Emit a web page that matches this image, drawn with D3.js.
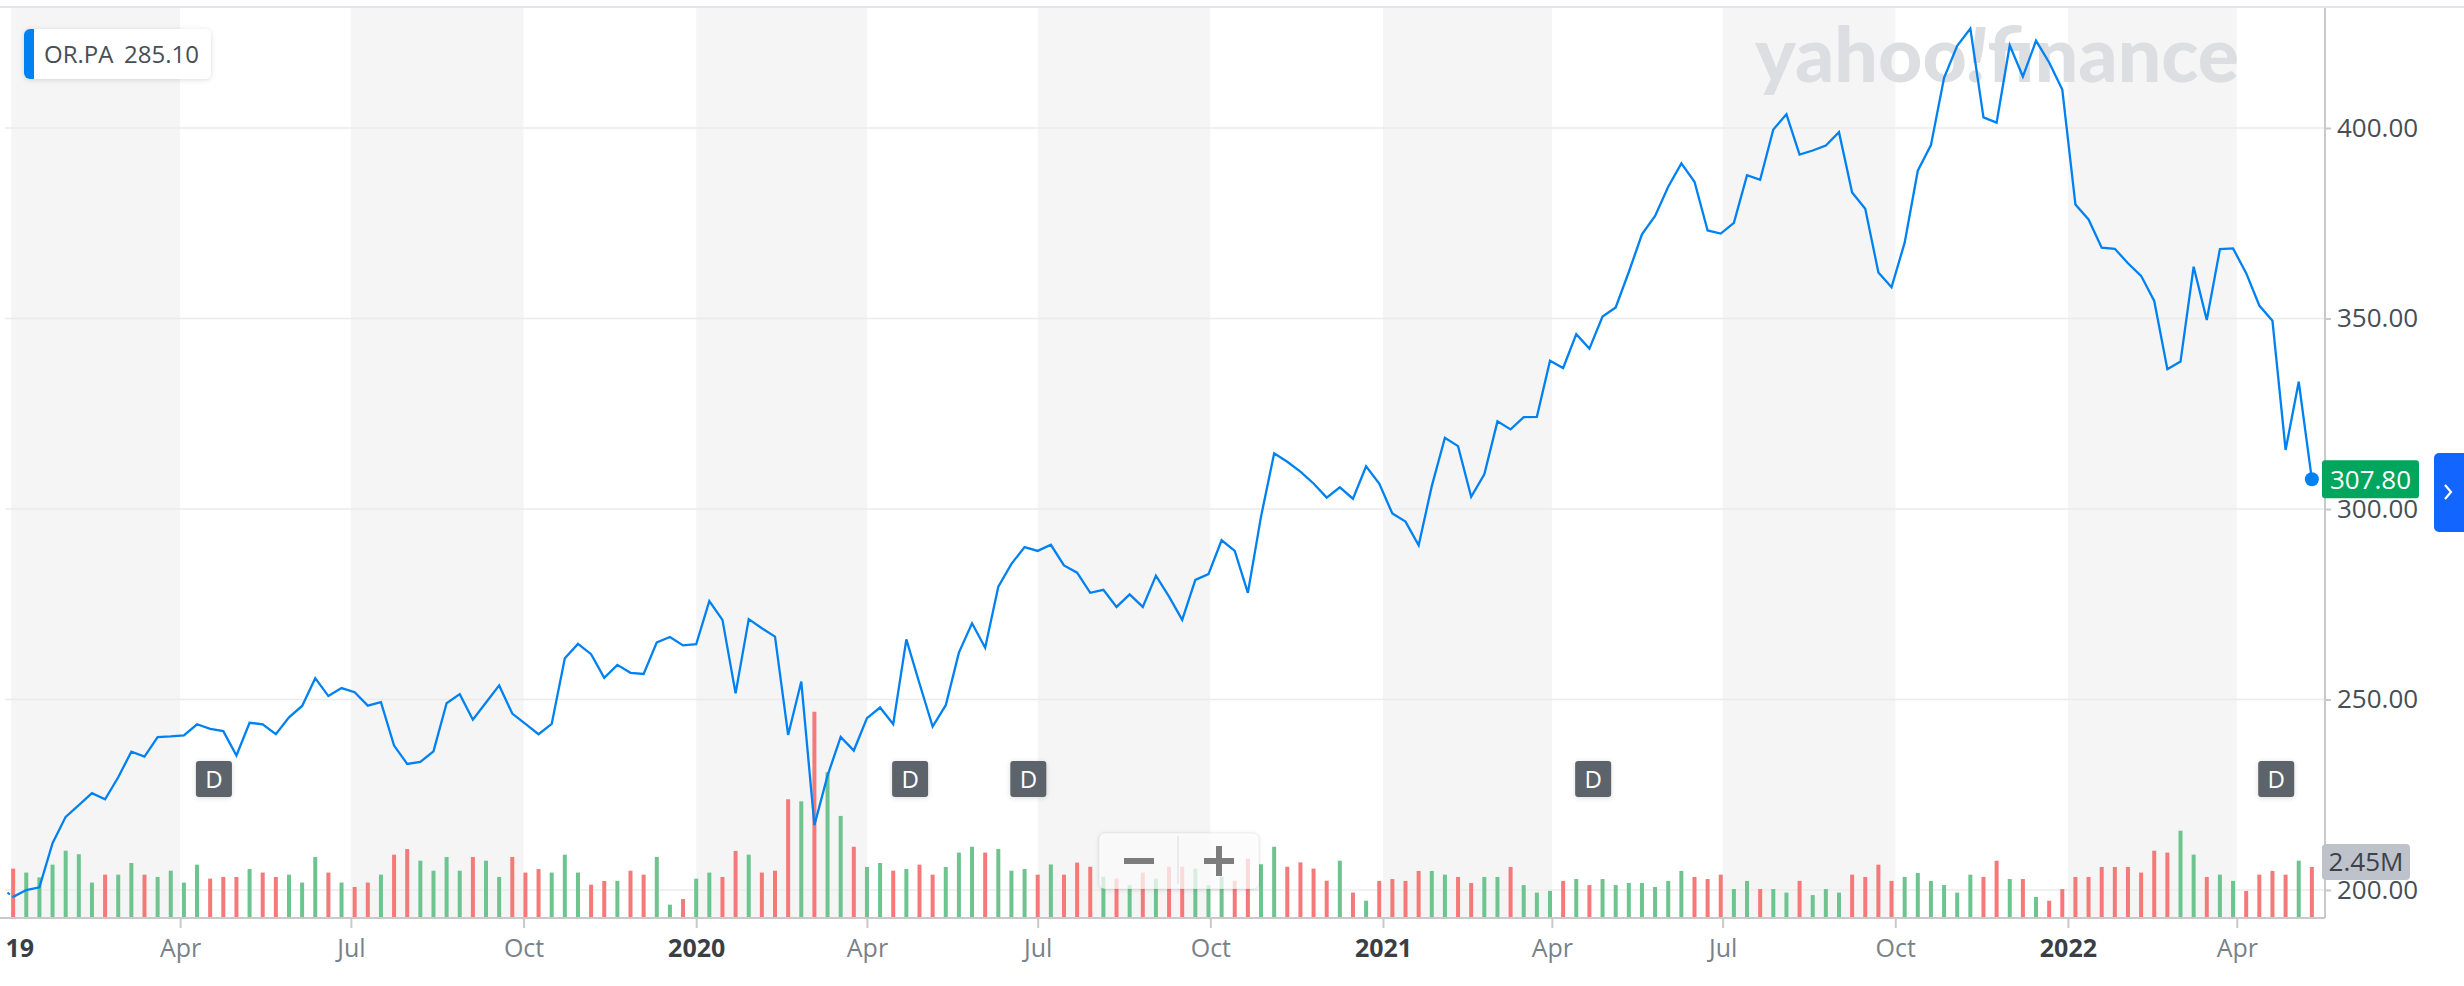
<!DOCTYPE html>
<html>
<head>
<meta charset="utf-8">
<script src="https://cdn.jsdelivr.net/npm/d3@7"></script>
<style>
  body { margin: 0; background: #fff; }
  svg { display: block; font-family: "Open Sans", sans-serif; }
</style>
</head>
<body>
<div id="chart"></div>
<script>
// weekly closes of OR.PA, first week below, one value per week
const symbol = 'OR.PA';
const legendValue = '285.10';
const firstWeek = '2019-01-02';
const prevCloseDate = '2018-12-30';
const prevClose = 199.3;

const closes = [
  198.2, 200.0, 200.7, 212.3, 219.2, 222.3, 225.4, 223.8, 229.6, 236.3,
  235.0, 240.1, 240.3, 240.6, 243.5, 242.3, 241.7, 235.3, 243.9, 243.5,
  240.9, 245.3, 248.3, 255.6, 250.9, 253.0, 251.9, 248.4, 249.3, 237.9,
  233.1, 233.6, 236.4, 249.0, 251.4, 244.7, 249.2, 253.7, 246.3, 243.6,
  240.9, 243.6, 260.8, 264.6, 261.9, 255.7, 259.1, 257.0, 256.7, 265.0,
  266.4, 264.2, 264.5, 275.8, 270.9, 251.6, 271.1, 268.7, 266.5, 240.7,
  254.7, 217.0, 230.0, 240.2, 236.6, 245.1, 247.9, 243.5, 265.8, 254.2,
  242.9, 248.5, 262.3, 270.0, 263.6, 279.6, 285.6, 290.0, 289.0, 290.6,
  285.2, 283.3, 278.0, 278.8, 274.3, 277.6, 274.3, 282.5, 277.0, 270.9,
  281.4, 282.9, 291.8, 289.0, 278.0, 298.0, 314.6, 312.4, 309.8, 306.7,
  303.0, 305.7, 302.7, 311.2, 306.7, 298.8, 296.7, 290.5, 306.0, 318.7,
  316.5, 303.2, 309.1, 323.0, 320.9, 324.1, 324.2, 338.9, 337.0, 345.9,
  342.1, 350.5, 352.9, 362.2, 372.1, 376.9, 384.6, 390.7, 385.9, 373.1,
  372.3, 375.1, 387.6, 386.4, 399.6, 403.6, 393.0, 394.1, 395.4, 398.9,
  383.1, 378.8, 362.1, 358.2, 369.9, 388.8, 395.5, 413.2, 421.6, 426.1,
  402.8, 401.4, 421.7, 413.5, 422.9, 417.2, 410.1, 379.9, 376.0, 368.6,
  368.3, 364.5, 361.2, 354.6, 336.7, 338.7, 363.6, 349.6, 368.2, 368.4,
  361.9, 353.4, 349.4, 315.5, 333.4, 307.8
];

// weekly volume, millions of shares
const volumes = [
  2.37, 2.18, 1.95, 2.56, 3.23, 3.06, 1.70, 2.08, 2.08, 2.64,
  2.08, 1.97, 2.27, 1.70, 2.56, 1.89, 1.97, 1.97, 2.35, 2.18,
  1.97, 2.08, 1.70, 2.93, 2.18, 1.70, 1.49, 1.70, 2.08, 3.04,
  3.31, 2.75, 2.27, 2.93, 2.27, 2.93, 2.75, 1.97, 2.93, 2.18,
  2.35, 2.18, 3.04, 2.18, 1.60, 1.78, 1.78, 2.27, 2.08, 2.93,
  0.64, 0.91, 1.89, 2.18, 1.97, 3.22, 3.04, 2.18, 2.27, 5.70,
  5.60, 9.90, 7.00, 4.90, 3.42, 2.45, 2.64, 2.27, 2.35, 2.56,
  2.08, 2.45, 3.14, 3.42, 3.14, 3.31, 2.27, 2.35, 2.08, 2.57,
  2.08, 2.66, 2.46, 1.98, 1.89, 1.58, 2.18, 1.89, 2.46, 2.46,
  2.37, 1.58, 1.98, 1.79, 2.85, 2.58, 3.42, 2.46, 2.67, 2.37,
  1.79, 2.75, 1.22, 0.83, 1.78, 1.87, 1.78, 2.26, 2.26, 2.08,
  1.97, 1.68, 1.97, 1.97, 2.45, 1.58, 1.22, 1.30, 1.78, 1.87,
  1.58, 1.87, 1.58, 1.68, 1.68, 1.49, 1.78, 2.26, 1.97, 1.87,
  2.08, 1.39, 1.78, 1.39, 1.39, 1.22, 1.78, 1.10, 1.39, 1.22,
  2.08, 1.97, 2.56, 1.78, 1.97, 2.16, 1.78, 1.58, 1.22, 2.08,
  1.97, 2.75, 1.87, 1.87, 1.01, 0.83, 1.39, 1.97, 1.97, 2.45,
  2.45, 2.45, 2.18, 3.23, 3.14, 4.19, 3.04, 1.97, 2.08, 1.78,
  1.30, 2.08, 2.26, 2.08, 2.75, 2.45
];

const dividendDates = ['2019-04-19', '2020-04-24', '2020-06-26', '2021-04-23', '2022-04-22'];

const tickDates = [
  '2019-01-01', '2019-04-01', '2019-07-01', '2019-10-01',
  '2020-01-01', '2020-04-01', '2020-07-01', '2020-10-01',
  '2021-01-01', '2021-04-01', '2021-07-01', '2021-10-01',
  '2022-01-01', '2022-04-01'
];
const tickLabels = ['2019', 'Apr', 'Jul', 'Oct', '2020', 'Apr', 'Jul', 'Oct', '2021', 'Apr', 'Jul', 'Oct', '2022', 'Apr'];
const priceTicks = [200, 250, 300, 350, 400];
const lastVolumeLabel = '2.45M';

const width = 2464, height = 986;
const plotLeft = 5, plotRight = 2325, plotTop = 8, plotBottom = 918;

const parse = d3.timeParse('%Y-%m-%d');
const start = parse(firstWeek);

const data = closes.map((c, i) => ({
    date: d3.timeDay.offset(start, 7 * i),
    close: c,
    volume: volumes[i],
    up: c >= (i ? closes[i - 1] : prevClose)
}));
const last = data[data.length - 1];

const x = d3.scaleTime()
    .domain([parse('2018-12-26'), parse('2022-05-18')])
    .range([0, plotRight]);

const y = d3.scaleLinear()
    .domain([200, 400])
    .range([890, 128]);

const vy = d3.scaleLinear()
    .domain([0, 12])
    .range([plotBottom, plotBottom - 250]);

const svg = d3.select('#chart')
    .append('svg')
        .attr('width', width)
        .attr('height', height);

const defs = svg.append('defs');
defs.append('filter')
        .attr('id', 'shadow')
        .attr('x', '-20%').attr('y', '-40%')
        .attr('width', '140%').attr('height', '180%')
    .append('feDropShadow')
        .attr('dx', 0).attr('dy', 1)
        .attr('stdDeviation', 2.5)
        .attr('flood-color', '#000')
        .attr('flood-opacity', 0.14);

defs.append('clipPath')
        .attr('id', 'xclip')
    .append('rect')
        .attr('x', plotLeft).attr('y', -5)
        .attr('width', width).attr('height', 80);

// top border
svg.append('line')
    .attr('x1', 0).attr('x2', width)
    .attr('y1', 7).attr('y2', 7)
    .attr('stroke', '#e2e4e7')
    .attr('stroke-width', 2);

// quarter bands (Q1 and Q3 shaded)
const bands = tickDates.map(parse).filter((d, i) => i % 2 === 0);
svg.append('g')
    .selectAll('rect')
    .data(bands).enter()
    .append('rect')
        .attr('x', d => Math.max(plotLeft, x(d)))
        .attr('y', plotTop)
        .attr('width', d => x(d3.timeMonth.offset(d, 3)) - Math.max(plotLeft, x(d)))
        .attr('height', plotBottom - plotTop)
        .attr('fill', '#f5f5f5');

// watermark
const wm = svg.append('text')
    .attr('x', 1755)
    .attr('y', 82)
    .attr('textLength', 484)
    .attr('lengthAdjust', 'spacingAndGlyphs')
    .style('font-family', 'Lato, sans-serif')
    .style('font-weight', 900)
    .style('font-size', '76px')
    .attr('fill', '#dcdee2');
wm.append('tspan').text('yahoo');
wm.append('tspan').style('font-style', 'italic').text('!');
wm.append('tspan').text('finance');

// horizontal grid
svg.append('g')
    .selectAll('line')
    .data(priceTicks).enter()
    .append('line')
        .attr('x1', plotLeft).attr('x2', plotRight)
        .attr('y1', d => y(d)).attr('y2', d => y(d))
        .attr('stroke', '#ebebeb')
        .attr('stroke-width', 1.5);

// volume bars
svg.append('g')
    .selectAll('rect')
    .data(data).enter()
    .append('rect')
        .attr('x', d => x(d.date) - 2)
        .attr('y', d => vy(d.volume))
        .attr('width', 4)
        .attr('height', d => plotBottom - vy(d.volume))
        .attr('fill', d => d.up ? '#6ec48e' : '#f47a7a');

// price line
const line = d3.line()
    .x(d => x(d.date))
    .y(d => y(d.close));

svg.append('path')
    .datum([{ date: parse(prevCloseDate), close: prevClose }, data[0]])
    .attr('d', line)
    .attr('fill', 'none')
    .attr('stroke', '#0081f2')
    .attr('stroke-width', 2)
    .attr('stroke-dasharray', '3,3');

svg.append('path')
    .datum(data)
    .attr('d', line)
    .attr('fill', 'none')
    .attr('stroke', '#0081f2')
    .attr('stroke-width', 2.3)
    .attr('stroke-linejoin', 'miter');

// x axis
svg.append('line')
    .attr('x1', 0).attr('x2', plotRight)
    .attr('y1', plotBottom).attr('y2', plotBottom)
    .attr('stroke', '#c9c9c9')
    .attr('stroke-width', 2);

const xAxis = svg.append('g')
        .attr('transform', `translate(0,${plotBottom})`)
        .attr('clip-path', 'url(#xclip)')
    .call(d3.axisBottom(x)
        .tickValues(tickDates.map(parse))
        .tickFormat((d, i) => tickLabels[i])
        .tickSize(10)
        .tickPadding(11)
        .tickSizeOuter(0));
xAxis.select('.domain').remove();
xAxis.selectAll('.tick line').attr('stroke', '#c9c9c9').attr('stroke-width', 2);
xAxis.selectAll('.tick text')
    .style('font-family', '"Open Sans", sans-serif')
    .style('font-size', '25px')
    .style('font-weight', (d, i) => /^\d{4}$/.test(tickLabels[i]) ? 700 : 400)
    .attr('fill', (d, i) => /^\d{4}$/.test(tickLabels[i]) ? '#3a3f45' : '#79818a');
// first year label sits against the left edge, as in the source chart
xAxis.selectAll('.tick')
    .filter((d, i) => i === 0)
    .select('text')
        .attr('x', d => plotLeft - x(d));
xAxis.selectAll('.tick')
    .filter((d, i) => i === 0)
    .select('line')
        .remove();

// y axis on the right
svg.append('line')
    .attr('x1', plotRight).attr('x2', plotRight)
    .attr('y1', plotTop).attr('y2', plotBottom)
    .attr('stroke', '#c9c9c9')
    .attr('stroke-width', 2);

const yAxis = svg.append('g')
        .attr('transform', `translate(${plotRight},0)`)
    .call(d3.axisRight(y)
        .tickValues(priceTicks)
        .tickFormat(d3.format('.2f'))
        .tickSize(6)
        .tickPadding(6));
yAxis.select('.domain').remove();
yAxis.selectAll('.tick line').attr('stroke', '#c9c9c9').attr('stroke-width', 2);
yAxis.selectAll('.tick text')
    .style('font-family', '"Open Sans", sans-serif')
    .style('font-size', '26px')
    .attr('fill', '#464e56');

// dividend markers
const div = svg.append('g')
    .selectAll('g')
    .data(dividendDates.map(parse)).enter()
    .append('g')
        .attr('transform', d => `translate(${x(d)},779)`);
div.append('rect')
    .attr('x', -18).attr('y', -18)
    .attr('width', 36).attr('height', 36)
    .attr('rx', 3)
    .attr('fill', '#5b636a')
    .attr('filter', 'url(#shadow)');
div.append('text')
    .attr('text-anchor', 'middle')
    .attr('dy', '0.36em')
    .style('font-size', '24px')
    .attr('fill', '#fff')
    .text('D');

// zoom control
const zc = svg.append('g');
zc.append('rect')
    .attr('x', 1099).attr('y', 833)
    .attr('width', 160).attr('height', 56)
    .attr('rx', 6)
    .attr('fill', 'rgba(255,255,255,0.72)')
    .attr('stroke', 'rgba(0,0,0,0.06)')
    .attr('filter', 'url(#shadow)');
zc.append('line')
    .attr('x1', 1178).attr('x2', 1178)
    .attr('y1', 836).attr('y2', 884)
    .attr('stroke', 'rgba(0,0,0,0.08)')
    .attr('stroke-width', 1.5);
zc.append('rect')
    .attr('x', 1124).attr('y', 858)
    .attr('width', 30).attr('height', 6)
    .attr('fill', '#7d7d7d');
zc.append('rect')
    .attr('x', 1204).attr('y', 858)
    .attr('width', 30).attr('height', 6)
    .attr('fill', '#7d7d7d');
zc.append('rect')
    .attr('x', 1216).attr('y', 846)
    .attr('width', 6).attr('height', 30)
    .attr('fill', '#7d7d7d');

// last price marker and label
svg.append('circle')
    .attr('cx', x(last.date))
    .attr('cy', y(last.close))
    .attr('r', 7)
    .attr('fill', '#0081f2');

const pl = svg.append('g')
    .attr('transform', `translate(${plotRight - 3},${y(last.close)})`);
pl.append('rect')
    .attr('x', 0).attr('y', -19)
    .attr('width', 97).attr('height', 38)
    .attr('rx', 3)
    .attr('fill', '#00a65d');
pl.append('text')
    .attr('x', 48.5)
    .attr('text-anchor', 'middle')
    .attr('dy', '0.36em')
    .style('font-size', '26px')
    .attr('fill', '#fff')
    .text(d3.format('.2f')(last.close));

// volume label
const vl = svg.append('g')
    .attr('transform', `translate(${plotRight - 3},${vy(last.volume) - 5})`);
vl.append('rect')
    .attr('x', 0).attr('y', -18)
    .attr('width', 88).attr('height', 36)
    .attr('rx', 4)
    .attr('fill', '#bec2ca');
vl.append('text')
    .attr('x', 44)
    .attr('text-anchor', 'middle')
    .attr('dy', '0.36em')
    .style('font-size', '26px')
    .attr('fill', '#3d4249')
    .text(lastVolumeLabel);

// expand button
const btn = svg.append('g');
btn.append('rect')
    .attr('x', 2434).attr('y', 453)
    .attr('width', 40).attr('height', 79)
    .attr('rx', 5)
    .attr('fill', '#1266ff');
btn.append('path')
    .attr('d', 'M2445,485 L2451,492 L2445,499')
    .attr('fill', 'none')
    .attr('stroke', '#fff')
    .attr('stroke-width', 2.2);

// legend
const lg = svg.append('g');
defs.append('clipPath')
        .attr('id', 'lgclip')
    .append('rect')
        .attr('x', 24).attr('y', 29)
        .attr('width', 187).attr('height', 50)
        .attr('rx', 6);
lg.append('rect')
    .attr('x', 24).attr('y', 29)
    .attr('width', 187).attr('height', 50)
    .attr('rx', 6)
    .attr('fill', '#fff')
    .attr('filter', 'url(#shadow)');
lg.append('rect')
    .attr('x', 24).attr('y', 29)
    .attr('width', 10).attr('height', 50)
    .attr('fill', '#0081f2')
    .attr('clip-path', 'url(#lgclip)');
lg.append('text')
    .attr('x', 44).attr('y', 63)
    .style('font-size', '24px')
    .attr('fill', '#464e56')
    .text(symbol);
lg.append('text')
    .attr('x', 124).attr('y', 63)
    .style('font-size', '24px')
    .attr('fill', '#464e56')
    .text(legendValue);
</script>
</body>
</html>
